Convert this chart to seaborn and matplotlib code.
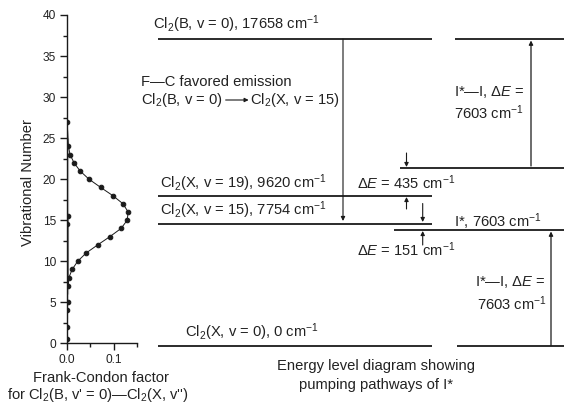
import matplotlib
matplotlib.use("Agg")
import matplotlib.pyplot as plt
import numpy as np
import pandas as pd
import seaborn as sns

# ---------------- data ----------------
vib_number = list(range(28))
fc_factor = [0.0005, 0.0005, 0.0007, 0.0008, 0.0010, 0.0012, 0.0015, 0.0020,
             0.0040, 0.0110, 0.0230, 0.0410, 0.0660, 0.0920, 0.1160, 0.1290,
             0.1310, 0.1200, 0.0980, 0.0720, 0.0470, 0.0280, 0.0150, 0.0065,
             0.0030, 0.0015, 0.0008, 0.0003]

y_ticks = [0, 5, 10, 15, 20, 25, 30, 35, 40]
x_ticks = [0.0, 0.1]
x_tick_labels = ["0.0", "0.1"]

cl2_names = ["Cl$_2$(B, v = 0)", "Cl$_2$(X, v = 19)", "Cl$_2$(X, v = 15)", "Cl$_2$(X, v = 0)"]
cl2_energies = [17658, 9620, 7754, 0]
iodine_name = "I*"
iodine_energy = 7603
delta_435 = 435
delta_151 = 151

# ---------------- style ----------------
sns.set_style("ticks")
plt.rcParams["font.family"] = ["Liberation Sans", "DejaVu Sans"]
plt.rcParams["mathtext.fontset"] = "custom"
plt.rcParams["mathtext.rm"] = "Liberation Sans"
plt.rcParams["mathtext.it"] = "Liberation Sans:italic"
plt.rcParams["mathtext.bf"] = "Liberation Sans:bold"

ink = "#1a1a1a"
tc = "#222222"
fs = 10.6

W, H = 564.0, 404.0
fig = plt.figure(figsize=(W / 100, H / 100), dpi=100)

# ---------------- left panel: Franck-Condon factors ----------------
axL = fig.add_axes([67 / W, (H - 343.3) / H, 70 / W, 328.3 / H])
df = pd.DataFrame({"fc": fc_factor, "v": vib_number})
sns.lineplot(data=df, x="fc", y="v", sort=False, ax=axL, color=ink, lw=0.7,
             marker="o", markersize=3.3, markeredgecolor=ink, markerfacecolor=ink)
axL.set_xlim(0, 0.15)
axL.set_ylim(0, 40)
axL.set_yticks(y_ticks)
axL.set_yticks(np.arange(2.5, 40, 5), minor=True)
axL.set_xticks(x_ticks)
axL.set_xticklabels(x_tick_labels)
axL.set_xticks([0.05, 0.15], minor=True)
sns.despine(ax=axL)
for s in ("left", "bottom"):
    axL.spines[s].set_color(ink)
    axL.spines[s].set_linewidth(1.0)
axL.tick_params(which="major", length=5, width=1.0, color=ink, labelsize=8.6,
                labelcolor=tc, pad=3)
axL.tick_params(which="minor", length=3, width=1.0, color=ink)
axL.set_xlabel("")
axL.set_ylabel("")
axL.patch.set_alpha(0)

fig.text(28 / W, 1 - 183 / H, "Vibrational Number", rotation=90, ha="center",
         va="center", fontsize=fs, color=tc)
fig.text(101 / W, 1 - 378 / H, "Frank-Condon factor", ha="center", va="center",
         fontsize=fs, color=tc)
fig.text(98 / W, 1 - 395.5 / H, "for Cl$_2$(B, v' = 0)\u2014Cl$_2$(X, v'')",
         ha="center", va="center", fontsize=fs, color=tc)

# ---------------- right panel: energy level diagram ----------------
axR = fig.add_axes([0, 0, 1, 1], zorder=-1)
axR.set_xlim(0, W)
axR.set_ylim(H, 0)
axR.axis("off")

# schematic layout (rows of the drawing)
row_B, row_upper, row_v19, row_v15, row_I, row_0 = 39, 168, 196, 223.5, 230, 345.5
col_left = (158, 432)
lw_level = 1.3

level_rows = [row_B, row_v19, row_v15, row_0]
for r in level_rows:
    axR.hlines(r, *col_left, color=ink, lw=lw_level)

axR.hlines(row_B, 455, 564, color=ink, lw=lw_level)
axR.hlines(row_upper, 400, 564, color=ink, lw=lw_level)
axR.hlines(row_I, 394, 564, color=ink, lw=lw_level)
axR.hlines(row_0, 457, 564, color=ink, lw=lw_level)


def arrow(x0, y0, x1, y1, lw=0.8):
    axR.annotate("", xy=(x1, y1), xytext=(x0, y0),
                 arrowprops=dict(arrowstyle="-|>", lw=lw, color=ink,
                                 mutation_scale=6, shrinkA=0, shrinkB=0))


arrow(343, row_B, 343, row_v15 - 2.5)
arrow(531, row_upper - 2, 531, row_B + 1.5, lw=0.9)
arrow(551, row_0, 551, row_I + 1.5, lw=0.9)
arrow(406.5, row_upper - 15, 406.5, row_upper - 1)
arrow(406.5, row_v19 + 13, 406.5, row_v19 + 1)
arrow(422.7, row_v15 - 20, 422.7, row_v15 - 1.5)
arrow(422.7, row_I + 15, 422.7, row_I + 1)

cm = " cm$^{-1}$"
dE = "\u0394$\\it{E}$"
axR.text(153, 24, f"{cl2_names[0]}, {cl2_energies[0]}{cm}", fontsize=fs, color=tc, va="center")
axR.text(141, 82, "F\u2014C favored emission", fontsize=fs, color=tc, va="center")
t1 = axR.text(141, 100, "Cl$_2$(B, v = 0)", fontsize=fs, color=tc, va="center")
axR.text(160, 183, f"{cl2_names[1]}, {cl2_energies[1]}{cm}", fontsize=fs, color=tc, va="center")
axR.text(160, 210, f"{cl2_names[2]}, {cl2_energies[2]}{cm}", fontsize=fs, color=tc, va="center")
axR.text(185, 332, f"{cl2_names[3]}, {cl2_energies[3]}{cm}", fontsize=fs, color=tc, va="center")
axR.text(357, 183, f"{dE} = {delta_435}{cm}", fontsize=fs, color=tc, va="center")
axR.text(357, 250, f"{dE} = {delta_151}{cm}", fontsize=fs, color=tc, va="center")
axR.text(454, 221.5, f"{iodine_name}, {iodine_energy}{cm}", fontsize=fs, color=tc, va="center")
axR.text(454, 92, f"I*\u2014I, {dE} =", fontsize=fs, color=tc, va="center")
axR.text(454, 113, f"{iodine_energy}{cm}", fontsize=fs, color=tc, va="center")
axR.text(475, 282, f"I*\u2014I, {dE} =", fontsize=fs, color=tc, va="center")
axR.text(477, 304, f"{iodine_energy}{cm}", fontsize=fs, color=tc, va="center")
axR.text(376, 366, "Energy level diagram showing", fontsize=fs, color=tc, va="center", ha="center")
axR.text(376, 385, "pumping pathways of I*", fontsize=fs, color=tc, va="center", ha="center")

# emission arrow between the two halves of the second line
fig.canvas.draw()
bb = t1.get_window_extent().transformed(axR.transData.inverted())
x_end = max(bb.x0, bb.x1)
arrow(x_end + 3, 100, x_end + 26, 100, lw=0.8)
axR.text(x_end + 27, 100, "Cl$_2$(X, v = 15)", fontsize=fs, color=tc, va="center")

fig.savefig("out.png", dpi=100)
